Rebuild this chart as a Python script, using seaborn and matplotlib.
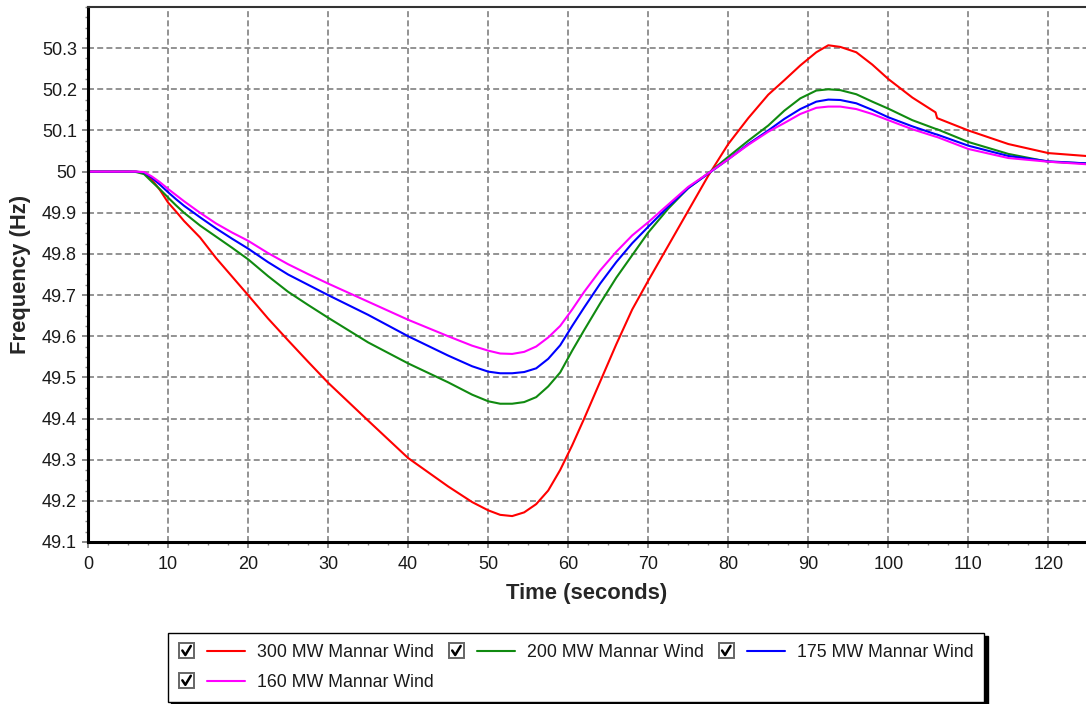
import numpy as np
import pandas as pd
import matplotlib
matplotlib.use("Agg")
import matplotlib.pyplot as plt
import seaborn as sns
from matplotlib.lines import Line2D
from matplotlib.patches import Rectangle
from matplotlib.legend_handler import HandlerBase
from matplotlib.ticker import MultipleLocator

# ---------------- data ----------------
time_s = [0, 5, 6, 7, 8, 9, 10, 11, 12, 14, 16,
          18, 20, 22.5, 25, 27.5, 30, 35, 40, 45, 48,
          50, 51.5, 53, 54.5, 56, 57.5, 59, 60.5, 62, 64,
          66, 68, 70, 72.5, 75, 77.5, 80, 82.5, 85, 87,
          89, 91, 92.5, 94, 96, 98, 100, 103, 105.9, 106.1,
          110, 115, 120, 124.7]

f_300 = [50.0, 50.0, 50.0, 49.996, 49.98, 49.955, 49.925, 49.903, 49.88, 49.84, 49.79,
         49.745, 49.70, 49.643, 49.59, 49.538, 49.487, 49.395, 49.304, 49.235, 49.197,
         49.177, 49.166, 49.163, 49.172, 49.192, 49.225, 49.275, 49.335, 49.40, 49.49,
         49.58, 49.665, 49.735, 49.82, 49.905, 49.99, 50.067, 50.13, 50.187, 50.222,
         50.258, 50.29, 50.307, 50.303, 50.29, 50.26, 50.225, 50.18, 50.144, 50.13,
         50.10, 50.067, 50.045, 50.038]

f_200 = [50.0, 50.0, 49.999, 49.994, 49.975, 49.957, 49.937, 49.918, 49.90, 49.869, 49.842,
         49.815, 49.787, 49.746, 49.708, 49.676, 49.645, 49.585, 49.534, 49.488, 49.458,
         49.442, 49.436, 49.436, 49.44, 49.452, 49.478, 49.512, 49.565, 49.615, 49.68,
         49.742, 49.797, 49.852, 49.91, 49.96, 49.996, 50.036, 50.075, 50.112, 50.148,
         50.178, 50.197, 50.20, 50.198, 50.188, 50.17, 50.153, 50.125, 50.104, 50.103,
         50.072, 50.043, 50.024, 50.02]

f_175 = [50.0, 50.0, 50.0, 49.998, 49.985, 49.968, 49.95, 49.933, 49.917, 49.889, 49.862,
         49.837, 49.813, 49.78, 49.75, 49.725, 49.70, 49.652, 49.60, 49.553, 49.527,
         49.514, 49.51, 49.51, 49.513, 49.522, 49.545, 49.578, 49.625, 49.67, 49.728,
         49.78, 49.826, 49.866, 49.915, 49.96, 49.995, 50.03, 50.067, 50.10, 50.128,
         50.152, 50.17, 50.175, 50.174, 50.166, 50.15, 50.132, 50.11, 50.091, 50.09,
         50.063, 50.038, 50.025, 50.02]

f_160 = [50.0, 50.0, 50.0, 49.999, 49.988, 49.974, 49.958, 49.943, 49.928, 49.90, 49.874,
         49.852, 49.832, 49.802, 49.775, 49.751, 49.728, 49.684, 49.64, 49.60, 49.577,
         49.565, 49.558, 49.557, 49.562, 49.575, 49.597, 49.625, 49.665, 49.708, 49.76,
         49.805, 49.845, 49.877, 49.92, 49.963, 49.996, 50.03, 50.065, 50.097, 50.118,
         50.14, 50.155, 50.158, 50.158, 50.152, 50.14, 50.125, 50.103, 50.085, 50.084,
         50.055, 50.033, 50.024, 50.018]

series_names = ["300 MW Mannar Wind", "200 MW Mannar Wind", "175 MW Mannar Wind", "160 MW Mannar Wind"]
series_values = [f_300, f_200, f_175, f_160]
series_colors = ["#ff0000", "#108a10", "#0000ff", "#ff00ff"]

df = pd.concat([pd.DataFrame({"Time": time_s, "Frequency": v, "Series": n})
                for n, v in zip(series_names, series_values)], ignore_index=True)

# ---------------- style ----------------
sns.set_style("white")
plt.rcParams["font.family"] = ["Liberation Sans", "DejaVu Sans"]

fig = plt.figure(figsize=(10.86, 7.04), dpi=100)
W, H = 1086, 704
ax = fig.add_axes([88 / W, (H - 542) / H, (W - 88) / W, (542 - 7) / H])

sns.lineplot(data=df, x="Time", y="Frequency", hue="Series", hue_order=series_names,
             palette=dict(zip(series_names, series_colors)), linewidth=1.5,
             estimator=None, sort=False, ax=ax, legend=True)

handles, labels = ax.get_legend_handles_labels()
if ax.get_legend() is not None:
    ax.get_legend().remove()

ax.set_xlim(0, 124.7)
ax.set_ylim(49.1, 50.4)
ax.xaxis.set_major_locator(MultipleLocator(10))
ax.xaxis.set_minor_locator(MultipleLocator(2.5))
ax.yaxis.set_minor_locator(MultipleLocator(0.025))
yt = np.round(np.arange(49.1, 50.35, 0.1), 1)
ax.set_yticks(yt)
ax.set_yticklabels([("%g" % v) for v in yt])

ax.grid(True, which="major", color="#8a8a8a", linestyle=(0, (3.3, 1.8)), linewidth=1.3)
ax.set_axisbelow(True)

for side in ["left", "bottom"]:
    ax.spines[side].set_color("black")
    ax.spines[side].set_linewidth(2.2)
ax.spines["top"].set_color("#333333")
ax.spines["top"].set_linewidth(1.5)
ax.spines["right"].set_visible(False)

ax.tick_params(axis="both", which="major", direction="out", length=4, width=1.2,
               color="#777777", labelsize=13, labelcolor="#1a1a1a", pad=4)
ax.tick_params(axis="both", which="minor", direction="out", length=2.5, width=1.0, color="#888888")
ax.tick_params(axis="x", which="major", pad=6)
ax.tick_params(axis="x", which="both", bottom=True)
ax.tick_params(axis="y", which="both", left=True)

ax.set_xlabel("Time (seconds)", fontsize=15.8, fontweight="bold", labelpad=7)
ax.set_ylabel("Frequency (Hz)", fontsize=15.8, fontweight="bold", labelpad=8)


# ---------------- legend with checkbox handles ----------------
class CheckLineHandler(HandlerBase):
    def create_artists(self, legend, orig_handle, xdescent, ydescent, width, height,
                       fontsize, trans):
        s = fontsize * 0.85
        x0 = -xdescent
        yc = height / 2 - ydescent
        box = Rectangle((x0, yc - s / 2), s, s, facecolor="white", edgecolor="#666666",
                        linewidth=1.4, transform=trans)
        chk = Line2D([x0 + 0.22 * s, x0 + 0.42 * s, x0 + 0.78 * s],
                     [yc + 0.02 * s, yc - 0.28 * s, yc + 0.32 * s],
                     color="black", linewidth=1.8, transform=trans)
        ln = Line2D([x0 + s + 0.72 * fontsize, x0 + width], [yc, yc],
                    color=orig_handle.get_color(), linewidth=1.5, transform=trans)
        return [box, chk, ln]


# matplotlib fills legend columns first; reorder so rows read 300, 200, 175 / 160
order = [0, 3, 1, 2]
leg_handles = [handles[i] for i in order]
leg_labels = [labels[i] for i in order]

leg = fig.legend(leg_handles, leg_labels, loc="upper left",
                 bbox_to_anchor=(168 / W, 1 - 633 / H), ncol=3,
                 handler_map={h: CheckLineHandler() for h in leg_handles},
                 fontsize=12.8, frameon=True, fancybox=False, framealpha=1,
                 edgecolor="black", handlelength=3.7, handletextpad=0.68,
                 columnspacing=0.85, labelspacing=0.72, borderpad=0.62,
                 borderaxespad=0,
                 shadow={"color": "black", "alpha": 1, "ox": 2.5, "oy": -2.5})
leg.get_frame().set_linewidth(1.0)
for txt in leg.get_texts():
    txt.set_color("#1a1a1a")

fig.savefig("out.png", dpi=100)
